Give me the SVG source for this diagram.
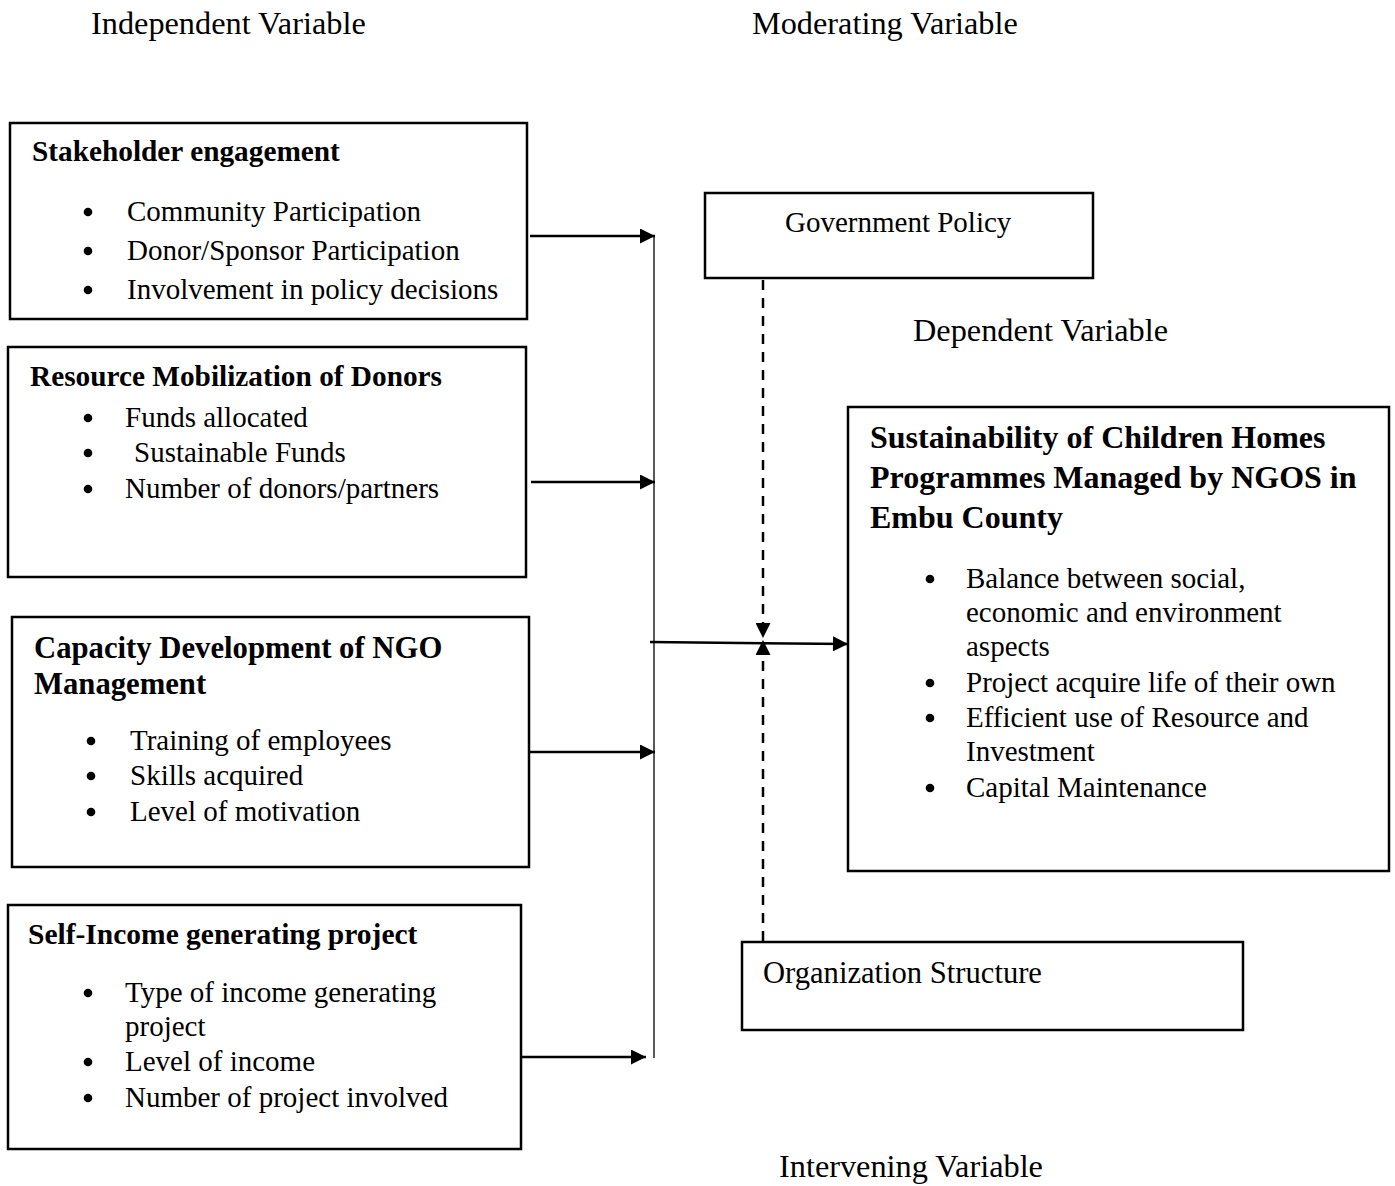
<svg xmlns="http://www.w3.org/2000/svg" width="1395" height="1186" viewBox="0 0 1395 1186">
<style>
text{font-family:"Liberation Serif","Times New Roman",serif;fill:#000}
.L{font-size:32.3px}
.t{font-size:29px}
.h{font-size:29.3px;font-weight:bold}
.H{font-size:30.7px;font-weight:bold}
.HH{font-size:32px;font-weight:bold}
.box{fill:none;stroke:#000;stroke-width:2.5}
.ln{fill:none;stroke:#000;stroke-width:2.5}
.thin{fill:none;stroke:#000;stroke-width:1.3}
.dash{fill:none;stroke:#000;stroke-width:2.5;stroke-dasharray:10,8}
.b{fill:#000}
</style>
<defs>
<marker id="a" viewBox="0 0 10 10" refX="10" refY="5" markerWidth="16" markerHeight="15" markerUnits="userSpaceOnUse" orient="auto">
<path d="M0,0 L10,5 L0,10 z" fill="#000"/>
</marker>
</defs>

<text class="L" x="91" y="34">Independent Variable</text>
<text class="L" x="752" y="34">Moderating Variable</text>
<text class="L" x="913" y="341">Dependent Variable</text>
<text class="L" x="779" y="1177">Intervening Variable</text>

<g id="stakeholder">
<rect class="box" x="10" y="123" width="517" height="196"/>
<text class="h" x="32" y="161">Stakeholder engagement</text>
<circle class="b" cx="88" cy="212" r="4.3"/><text class="t" x="127" y="221">Community Participation</text>
<circle class="b" cx="88" cy="251" r="4.3"/><text class="t" x="127" y="260">Donor/Sponsor Participation</text>
<circle class="b" cx="88" cy="290" r="4.3"/><text class="t" x="127" y="299">Involvement in policy decisions</text>
</g>

<g id="resource">
<rect class="box" x="8" y="347" width="518" height="230"/>
<text class="h" x="30" y="386">Resource Mobilization of Donors</text>
<circle class="b" cx="88" cy="418" r="4.3"/><text class="t" x="125" y="427">Funds allocated</text>
<circle class="b" cx="88" cy="453" r="4.3"/><text class="t" x="134" y="462">Sustainable Funds</text>
<circle class="b" cx="88" cy="489" r="4.3"/><text class="t" x="125" y="498">Number of donors/partners</text>
</g>

<g id="capacity">
<rect class="box" x="12" y="617" width="517" height="250"/>
<text class="H" x="34" y="658">Capacity Development of NGO</text>
<text class="H" x="34" y="694">Management</text>
<circle class="b" cx="91" cy="741" r="4.3"/><text class="t" x="130" y="750">Training of employees</text>
<circle class="b" cx="91" cy="776" r="4.3"/><text class="t" x="130" y="785">Skills acquired</text>
<circle class="b" cx="91" cy="812" r="4.3"/><text class="t" x="130" y="821">Level of motivation</text>
</g>

<g id="selfincome">
<rect class="box" x="8" y="905" width="513" height="244"/>
<text class="h" x="28" y="944" style="font-size:29.5px">Self-Income generating project</text>
<circle class="b" cx="88" cy="993" r="4.3"/><text class="t" x="125" y="1002">Type of income generating</text>
<text class="t" x="125" y="1036">project</text>
<circle class="b" cx="88" cy="1062" r="4.3"/><text class="t" x="125" y="1071">Level of income</text>
<circle class="b" cx="88" cy="1098" r="4.3"/><text class="t" x="125" y="1107">Number of project involved</text>
</g>

<g id="government">
<rect class="box" x="705" y="193" width="388" height="85"/>
<text class="t" x="785" y="232">Government Policy</text>
</g>

<g id="sustainability">
<rect class="box" x="848" y="407" width="541" height="464"/>
<text class="HH" x="870" y="448">Sustainability of Children Homes</text>
<text class="HH" x="870" y="488">Programmes Managed by NGOS in</text>
<text class="HH" x="870" y="528">Embu County</text>
<circle class="b" cx="930" cy="579" r="4.3"/><text class="t" x="966" y="588">Balance between social,</text>
<text class="t" x="966" y="622">economic and environment</text>
<text class="t" x="966" y="656">aspects</text>
<circle class="b" cx="930" cy="683" r="4.3"/><text class="t" x="966" y="692">Project acquire life of their own</text>
<circle class="b" cx="930" cy="718" r="4.3"/><text class="t" x="966" y="727">Efficient use of Resource and</text>
<text class="t" x="966" y="761">Investment</text>
<circle class="b" cx="930" cy="788" r="4.3"/><text class="t" x="966" y="797">Capital Maintenance</text>
</g>

<g id="organization">
<rect class="box" x="742" y="942" width="501" height="88"/>
<text class="t" x="763" y="983" style="font-size:30.6px">Organization Structure</text>
</g>

<g id="connectors">
<line class="thin" x1="654" y1="236" x2="654" y2="1058"/>
<line class="ln" x1="530" y1="236" x2="655" y2="236" marker-end="url(#a)"/>
<line class="ln" x1="531" y1="482" x2="655" y2="482" marker-end="url(#a)"/>
<line class="ln" x1="530" y1="752" x2="655" y2="752" marker-end="url(#a)"/>
<line class="ln" x1="522" y1="1057" x2="646" y2="1057" marker-end="url(#a)"/>
<line class="ln" x1="650" y1="642" x2="848" y2="644" marker-end="url(#a)"/>
<line class="dash" x1="763" y1="280" x2="763" y2="638" marker-end="url(#a)"/>
<line class="dash" x1="763" y1="941" x2="763" y2="640" marker-end="url(#a)"/>
</g>
</svg>
